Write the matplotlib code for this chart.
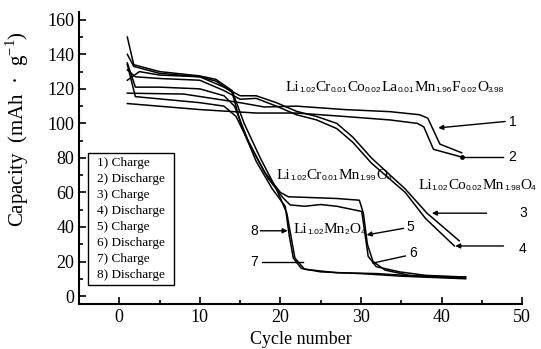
import matplotlib

matplotlib.use('Agg')
import numpy as np
import matplotlib.pyplot as plt
from matplotlib.ticker import FixedLocator
from matplotlib.offsetbox import TextArea, HPacker, AnnotationBbox

plt.rcParams['font.family'] = ['Liberation Serif', 'DejaVu Serif']
plt.rcParams['mathtext.fontset'] = 'custom'
plt.rcParams['mathtext.rm'] = 'Liberation Serif'

# curves 1,2 : Li1.02Cr0.01Co0.02La0.01Mn1.96F0.02O3.98
x1 = [1, 8, 15, 18, 22, 28, 33.6, 37.3, 38.3, 39.8, 42.5]
y1 = [117.5, 117, 112, 109.5, 110, 108, 106.8, 105, 103, 88, 83]
x2 = [1, 10, 17, 22, 28, 33.6, 37, 37.8, 39, 42.5]
y2 = [111.5, 108, 106, 106, 104, 102, 100, 98, 85, 80.5]

# curves 3,4 : Li1.02Co0.02Mn1.98O4
x3 = [1, 2.5, 5, 10, 13, 15, 17, 19.5, 22, 24.5, 27, 29, 31.3, 35.5, 38.2, 42.2]
y3 = [125, 130, 128, 127, 121, 116, 116, 112, 107, 104, 100, 92, 80, 62, 48, 32]
x4 = [1, 2, 5, 10, 13, 15, 17, 19.5, 22, 24.5, 27, 29, 31.3, 35.5, 38, 41.6]
y4 = [131, 127, 126, 125, 119, 114, 114.5, 110, 105, 102, 97, 89, 77, 60, 45, 29]

# curves 5,6 : Li1.02Cr0.01Mn1.99O4
x5 = [1, 2, 5, 10, 13, 14.3, 16, 18, 20, 21, 24, 27, 29.8, 30.3, 30.8, 31.5, 33, 36, 40, 43]
y5 = [135, 121, 121, 120, 116, 110, 90, 72, 60, 57.5, 57, 56.5, 55.5, 48, 30, 20, 15, 12, 11, 11]
x6 = [1, 2, 10, 13, 14.5, 16.5, 18.5, 20.3, 21.2, 23, 25, 27, 30.1, 30.9, 31.9, 34.8, 38, 43]
y6 = [134, 115.5, 112, 110, 104, 85, 68, 57, 52.8, 52, 53, 52, 49, 23, 17, 14, 12, 11]

# curves 7,8 : Li1.02Mn2O4
x7 = [1, 1.8, 5, 10, 12, 14, 15.5, 17.5, 19.5, 20.8, 21.3, 21.8, 23, 27, 32, 37, 42.5]
y7 = [150, 134, 130, 127.5, 125.5, 119, 100, 80, 62, 48, 35, 22, 15.5, 13.5, 13, 11.5, 10.5]
x8 = [1, 1.8, 5, 10, 12, 14, 15.2, 17, 19, 20.6, 21.1, 21.6, 22.6, 25, 30, 35, 43]
y8 = [140, 133, 129, 127, 124.5, 118, 98, 78, 62, 52, 35, 22, 16, 14, 13, 11.5, 10]

legend_lines = ['1) Charge', '2) Discharge', '3) Charge', '4) Discharge',
                '5) Charge', '6) Discharge', '7) Charge', '8) Discharge']

f_lacof = [('Li', '1.02'), ('Cr', '0.01'), ('Co', '0.02'), ('La', '0.01'),
           ('Mn', '1.96'), ('F', '0.02'), ('O', '3.98')]
f_cr = [('Li', '1.02'), ('Cr', '0.01'), ('Mn', '1.99'), ('O', '4')]
f_co = [('Li', '1.02'), ('Co', '0.02'), ('Mn', '1.98'), ('O', '4')]
f_pure = [('Li', '1.02'), ('Mn', '2'), ('O', '4')]


def formula(ax, x, y, parts, size=11, subsize=6):
    kids = []
    for main, sub in parts:
        kids.append(TextArea(main, textprops=dict(size=size, family='Liberation Serif')))
        kids.append(TextArea(sub, textprops=dict(size=subsize, family='Liberation Sans')))
    box = HPacker(children=kids, align='bottom', pad=0, sep=0)
    ab = AnnotationBbox(box, (x, y), xycoords='data', box_alignment=(0, 0.5),
                        frameon=False, pad=0, annotation_clip=False)
    ax.add_artist(ab)


fig = plt.figure(figsize=(5.41, 3.49), dpi=100)
ax = fig.add_axes([0.146, 0.129, 0.819, 0.837])

for xs, ys in [(x1, y1), (x2, y2), (x3, y3), (x4, y4),
               (x5, y5), (x6, y6), (x7, y7), (x8, y8)]:
    ax.plot(xs, ys, '-', color='black', linewidth=1.1)

ax.set_xlim(-5, 50)
ax.set_ylim(-4.6, 164.6)
ax.spines['top'].set_visible(False)
ax.spines['right'].set_visible(False)
ax.spines['left'].set_linewidth(1.5)
ax.spines['bottom'].set_linewidth(1.5)
ax.xaxis.set_major_locator(FixedLocator([0, 10, 20, 30, 40, 50]))
ax.xaxis.set_minor_locator(FixedLocator([5, 15, 25, 35, 45]))
ax.yaxis.set_major_locator(FixedLocator(list(range(0, 161, 20))))
ax.yaxis.set_minor_locator(FixedLocator(list(range(10, 160, 20))))
ax.tick_params(which='both', direction='in', width=1.2, labelsize=13)
ax.tick_params(which='major', length=5)
ax.tick_params(which='minor', length=3)

ax.set_xlabel('Cycle number', fontsize=13, labelpad=4)
ax.set_ylabel('Capacity  (mAh  \u00b7  g$^{\\mathrm{-1}}$)', fontsize=15)
ax.yaxis.set_label_coords(-0.108, 0.6)

# compound labels
formula(ax, 20.6, 120.6, f_lacof)
formula(ax, 19.5, 70, f_cr)
formula(ax, 37.1, 64.3, f_co)
formula(ax, 21.6, 38.3, f_pure)

# numbered pointers: label pos, tail, tip, style
pointers = [
    ('1', (48.9, 101), (47.9, 101.1), (39.6, 97.4), 'head'),
    ('2', (48.8, 80.6), (47.6, 80.6), (42.5, 80.6), 'dot'),
    ('3', (50.1, 48.3), (45.6, 48), (38.8, 48), 'head'),
    ('4', (50.1, 27), (47.7, 29), (41.7, 29), 'head'),
    ('5', (36.1, 40.2), (35.3, 39.2), (30.7, 35.4), 'head'),
    ('6', (36.5, 24.7), (35.5, 23.2), (31.5, 19.1), 'none'),
    ('8', (16.7, 37.8), (17.5, 37.8), (20.9, 37.8), 'head'),
    ('7', (16.8, 19.7), (17.7, 19.7), (22.8, 19.7), 'none'),
]
for lab, lpos, tail, tip, style in pointers:
    ax.text(lpos[0], lpos[1], lab, fontsize=10, family='Liberation Sans',
            ha='center', va='center', clip_on=False)
    if style == 'head':
        ax.annotate('', xy=tip, xytext=tail,
                    arrowprops=dict(arrowstyle='-|>', lw=1.0, color='black',
                                    mutation_scale=7, shrinkA=0, shrinkB=0))
    else:
        ax.plot([tail[0], tip[0]], [tail[1], tip[1]], color='black', lw=1.0)
        if style == 'dot':
            ax.plot([tip[0]], [tip[1]], 'o', color='black', markersize=2.5)

# text legend box
ax.add_patch(plt.Rectangle((-3.9, 6.4), 10.7, 76.5, fill=False, lw=1.0,
                           edgecolor='black'))
for i, s in enumerate(legend_lines):
    ax.text(-2.8, 77.3 - i * 9.28, s, fontsize=9.5, va='center')

plt.savefig('out.png', dpi=100)
